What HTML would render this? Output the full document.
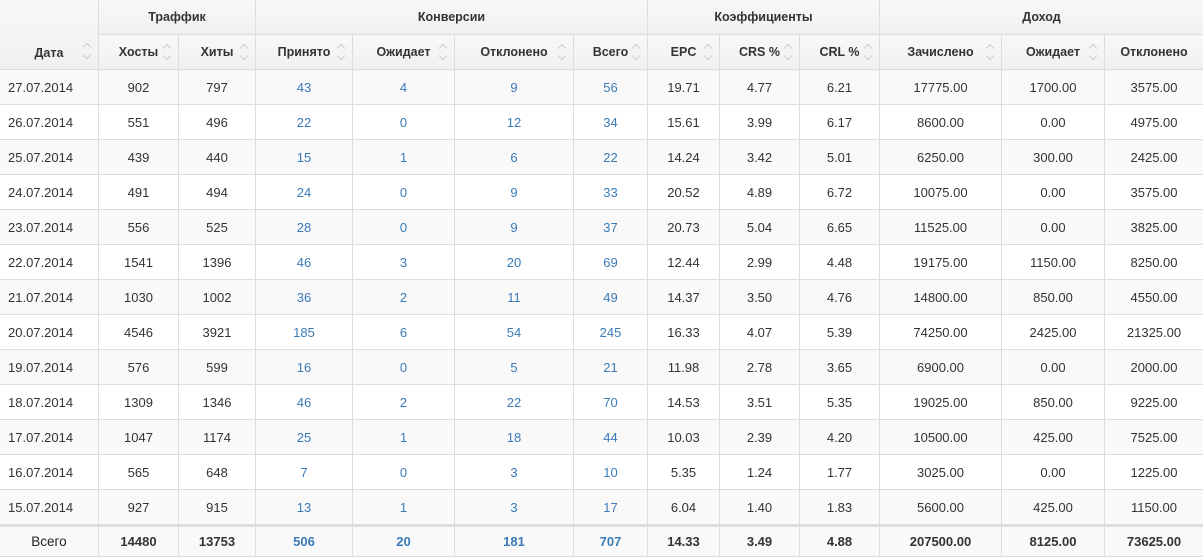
<!DOCTYPE html>
<html><head><meta charset="utf-8"><style>
body{margin:0;background:#fff;font-family:"Liberation Sans","DejaVu Sans",sans-serif;font-size:13px;color:#333}
table{border-collapse:collapse;table-layout:fixed;width:1204px;position:absolute;left:-1px;top:-1px}
td,th{border:1px solid #ddd;text-align:center;padding:0;white-space:nowrap;overflow:hidden}
th{background:linear-gradient(#f8f8f8,#f0f0f0);font-weight:bold;position:relative;font-size:12.5px}
tr.h1 th{height:34px}
tr.h2 th{height:34px}
th.s:after{content:"";position:absolute;right:8px;top:10px;width:5px;height:5px;border-left:1px solid #ccc;border-top:1px solid #ccc;transform:rotate(45deg)}
th.s:before{content:"";position:absolute;right:8px;top:18px;width:5px;height:5px;border-right:1px solid #ccc;border-bottom:1px solid #ccc;transform:rotate(45deg)}
th.d{vertical-align:bottom;padding-bottom:9px}
th.d:after{top:44px}th.d:before{top:52px}
td{height:34px}
tr.g td{background:#f9f9f9}
td.b{color:#3a7ab8}
td.l{text-align:left;padding-left:8px}
tr.t td{border-top:3px solid #ddd;height:29px;font-weight:bold;background:#f9f9f9}
tr.t td.f{font-weight:normal;font-size:13.5px;color:#222}
</style></head><body>
<table>
<colgroup><col style="width:99px"><col style="width:80px"><col style="width:77px"><col style="width:97px"><col style="width:102px"><col style="width:119px"><col style="width:74px"><col style="width:72px"><col style="width:80px"><col style="width:80px"><col style="width:122px"><col style="width:103px"><col style="width:99px"></colgroup>
<tr class="h1"><th rowspan="2" class="s d">Дата</th><th colspan="2">Траффик</th><th colspan="4">Конверсии</th><th colspan="3">Коэффициенты</th><th colspan="3">Доход</th></tr>
<tr class="h2"><th class="s">Хосты</th><th class="s">Хиты</th><th class="s">Принято</th><th class="s">Ожидает</th><th class="s">Отклонено</th><th class="s">Всего</th><th class="s">EPC</th><th class="s">CRS %</th><th class="s">CRL %</th><th class="s">Зачислено</th><th class="s">Ожидает</th><th>Отклонено</th></tr>
<tr class="g"><td class="l">27.07.2014</td><td>902</td><td>797</td><td class="b">43</td><td class="b">4</td><td class="b">9</td><td class="b">56</td><td>19.71</td><td>4.77</td><td>6.21</td><td>17775.00</td><td>1700.00</td><td>3575.00</td></tr>
<tr><td class="l">26.07.2014</td><td>551</td><td>496</td><td class="b">22</td><td class="b">0</td><td class="b">12</td><td class="b">34</td><td>15.61</td><td>3.99</td><td>6.17</td><td>8600.00</td><td>0.00</td><td>4975.00</td></tr>
<tr class="g"><td class="l">25.07.2014</td><td>439</td><td>440</td><td class="b">15</td><td class="b">1</td><td class="b">6</td><td class="b">22</td><td>14.24</td><td>3.42</td><td>5.01</td><td>6250.00</td><td>300.00</td><td>2425.00</td></tr>
<tr><td class="l">24.07.2014</td><td>491</td><td>494</td><td class="b">24</td><td class="b">0</td><td class="b">9</td><td class="b">33</td><td>20.52</td><td>4.89</td><td>6.72</td><td>10075.00</td><td>0.00</td><td>3575.00</td></tr>
<tr class="g"><td class="l">23.07.2014</td><td>556</td><td>525</td><td class="b">28</td><td class="b">0</td><td class="b">9</td><td class="b">37</td><td>20.73</td><td>5.04</td><td>6.65</td><td>11525.00</td><td>0.00</td><td>3825.00</td></tr>
<tr><td class="l">22.07.2014</td><td>1541</td><td>1396</td><td class="b">46</td><td class="b">3</td><td class="b">20</td><td class="b">69</td><td>12.44</td><td>2.99</td><td>4.48</td><td>19175.00</td><td>1150.00</td><td>8250.00</td></tr>
<tr class="g"><td class="l">21.07.2014</td><td>1030</td><td>1002</td><td class="b">36</td><td class="b">2</td><td class="b">11</td><td class="b">49</td><td>14.37</td><td>3.50</td><td>4.76</td><td>14800.00</td><td>850.00</td><td>4550.00</td></tr>
<tr><td class="l">20.07.2014</td><td>4546</td><td>3921</td><td class="b">185</td><td class="b">6</td><td class="b">54</td><td class="b">245</td><td>16.33</td><td>4.07</td><td>5.39</td><td>74250.00</td><td>2425.00</td><td>21325.00</td></tr>
<tr class="g"><td class="l">19.07.2014</td><td>576</td><td>599</td><td class="b">16</td><td class="b">0</td><td class="b">5</td><td class="b">21</td><td>11.98</td><td>2.78</td><td>3.65</td><td>6900.00</td><td>0.00</td><td>2000.00</td></tr>
<tr><td class="l">18.07.2014</td><td>1309</td><td>1346</td><td class="b">46</td><td class="b">2</td><td class="b">22</td><td class="b">70</td><td>14.53</td><td>3.51</td><td>5.35</td><td>19025.00</td><td>850.00</td><td>9225.00</td></tr>
<tr class="g"><td class="l">17.07.2014</td><td>1047</td><td>1174</td><td class="b">25</td><td class="b">1</td><td class="b">18</td><td class="b">44</td><td>10.03</td><td>2.39</td><td>4.20</td><td>10500.00</td><td>425.00</td><td>7525.00</td></tr>
<tr><td class="l">16.07.2014</td><td>565</td><td>648</td><td class="b">7</td><td class="b">0</td><td class="b">3</td><td class="b">10</td><td>5.35</td><td>1.24</td><td>1.77</td><td>3025.00</td><td>0.00</td><td>1225.00</td></tr>
<tr class="g"><td class="l">15.07.2014</td><td>927</td><td>915</td><td class="b">13</td><td class="b">1</td><td class="b">3</td><td class="b">17</td><td>6.04</td><td>1.40</td><td>1.83</td><td>5600.00</td><td>425.00</td><td>1150.00</td></tr>
<tr class="t"><td class="f">Всего</td><td>14480</td><td>13753</td><td class="b">506</td><td class="b">20</td><td class="b">181</td><td class="b">707</td><td>14.33</td><td>3.49</td><td>4.88</td><td>207500.00</td><td>8125.00</td><td>73625.00</td></tr>
</table>
</body></html>
